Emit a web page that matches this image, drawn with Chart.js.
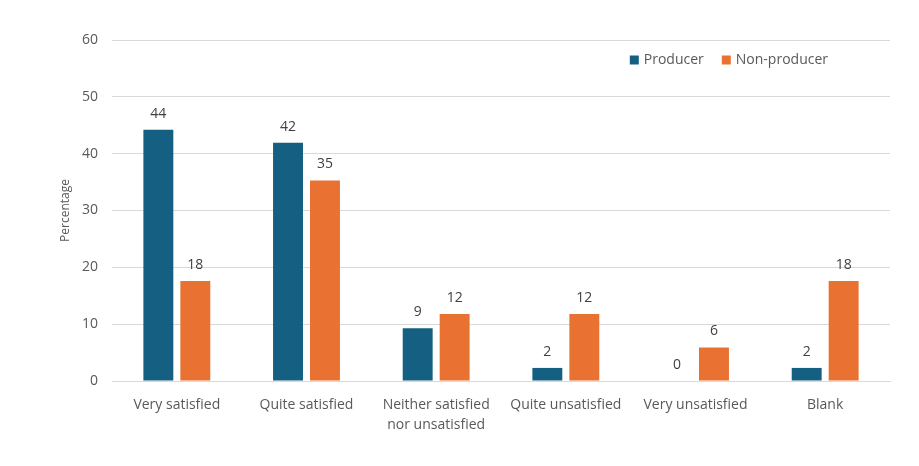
<!DOCTYPE html>
<html><head><meta charset="utf-8">
<script src="https://cdn.jsdelivr.net/npm/chart.js@4.4.0/dist/chart.umd.min.js"></script>
<style>html,body{margin:0;padding:0;background:#fff}#wrap{width:919px;height:466px}</style>
</head><body><div id="wrap"><canvas id="c"></canvas></div>
<script>
const categories = ["Very satisfied","Quite satisfied",["Neither satisfied","nor unsatisfied"],"Quite unsatisfied","Very unsatisfied","Blank"];
const producer = [44.2, 41.9, 9.3, 2.3, 0, 2.3];
const nonProducer = [17.6, 35.3, 11.8, 11.8, 5.9, 17.6];
const yTicks = [0,10,20,30,40,50,60];
const seriesNames = ["Producer","Non-producer"];
const seriesColors = ['#156082','#E97132'];
const FONT = "'Open Sans', 'Liberation Sans', sans-serif";
const labelPlugin = {
  id:'vals',
  afterDatasetsDraw(chart){
    const ctx = chart.ctx;
    ctx.save();
    ctx.font = "14px " + FONT;
    ctx.fillStyle = "#404040";
    ctx.textAlign = "center";
    ctx.textBaseline = "bottom";
    chart.data.datasets.forEach((ds,i)=>{
      const meta = chart.getDatasetMeta(i);
      meta.data.forEach((bar,j)=>{
        ctx.fillText(Math.round(ds.data[j]).toString(), bar.x, bar.y - 9);
      });
    });
    // legend inside chart area, top-right
    const ca = chart.chartArea;
    ctx.textBaseline = "middle";
    ctx.textAlign = "left";
    ctx.fillStyle = "#595959";
    const y = ca.top + 20;
    const box = 9, gapBoxText = 5, gapItems = 18;
    const widths = chart.data.datasets.map(ds => ctx.measureText(ds.label).width);
    let total = 0;
    widths.forEach((w,i)=>{ total += box + gapBoxText + w + (i < widths.length-1 ? gapItems : 0); });
    let x = ca.right - 62 - total;
    chart.data.datasets.forEach((ds,i)=>{
      ctx.fillStyle = ds.backgroundColor;
      ctx.fillRect(x, y - box/2, box, box);
      x += box + gapBoxText;
      ctx.fillStyle = "#595959";
      ctx.fillText(ds.label, x, y);
      x += widths[i] + gapItems;
    });
    ctx.restore();
  }
};
new Chart(document.getElementById('c'),{
  type:'bar',
  data:{labels:categories,datasets:[
    {label:seriesNames[0],data:producer,backgroundColor:seriesColors[0],categoryPercentage:0.57,barPercentage:0.81},
    {label:seriesNames[1],data:nonProducer,backgroundColor:seriesColors[1],categoryPercentage:0.57,barPercentage:0.81}
  ]},
  options:{
    responsive:true,maintainAspectRatio:false,animation:false,
    layout:{padding:{left:40,right:29,top:40,bottom:0}},
    plugins:{
      legend:{display:false},
      tooltip:{enabled:false}
    },
    scales:{
      x:{grid:{display:false,drawTicks:false},border:{color:'#d9d9d9'},
        ticks:{font:{size:14,family:FONT,lineHeight:1.45},color:'#595959',padding:14,maxRotation:0,autoSkip:false},
        afterFit(s){s.height=85;}},
      y:{min:0,max:60,afterBuildTicks(s){s.ticks=yTicks.map(v=>({value:v}));},
        grid:{color:'#d9d9d9',drawTicks:false},border:{display:false},
        ticks:{font:{size:14,family:FONT},color:'#595959',padding:14},
        title:{display:true,text:'Percentage',font:{size:12,family:FONT},color:'#595959',padding:{top:18,bottom:0}},
        afterFit(s){s.width=72;}}
    }
  },
  plugins:[labelPlugin]
});
</script></body></html>
